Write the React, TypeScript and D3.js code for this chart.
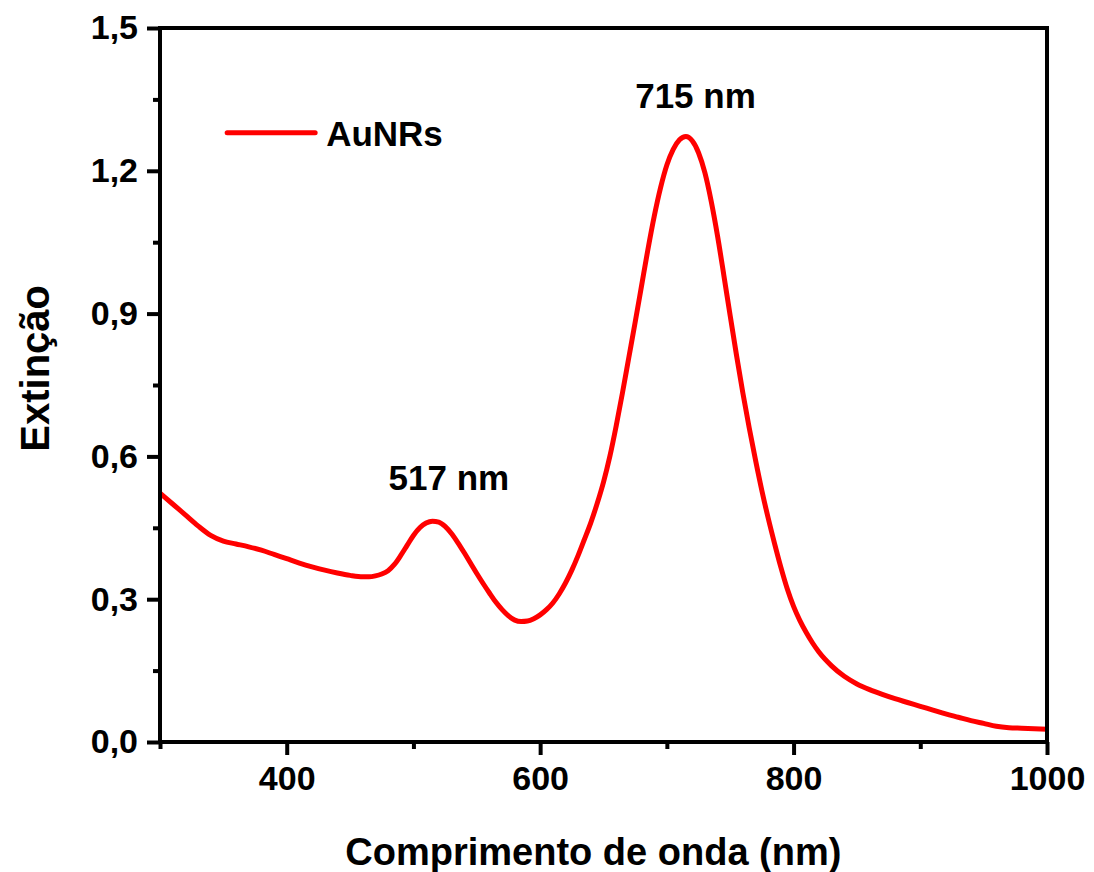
import * as d3 from 'd3'
import React, { useRef, useEffect } from 'react'

// wavelength (nm) and extinction
const wavelength = [
  300, 310, 320, 330, 340, 350, 360, 370, 380, 390, 400, 410, 420, 430, 440, 450, 460, 465, 470, 475,
  480, 485, 490, 495, 500, 505, 510, 515, 520, 525, 530, 535, 540, 545, 550, 555, 560, 565, 570, 575,
  580, 585, 590, 595, 600, 605, 610, 615, 620, 625, 630, 635, 640, 645, 650, 655, 660, 665, 670, 675,
  680, 685, 690, 695, 700, 705, 710, 715, 720, 725, 730, 735, 740, 745, 750, 755, 760, 765, 770, 775,
  780, 785, 790, 795, 800, 805, 810, 815, 820, 830, 840, 850, 860, 870, 880, 890, 900, 910, 920, 930,
  940, 950, 960, 970, 980, 990, 1000,
]
const extinction = [
  0.523, 0.5, 0.477, 0.454, 0.434, 0.422, 0.416, 0.41, 0.403, 0.394, 0.385, 0.376, 0.368, 0.361, 0.355, 0.35, 0.347, 0.347, 0.349, 0.353,
  0.36, 0.373, 0.392, 0.413, 0.434, 0.45, 0.46, 0.464, 0.462, 0.453, 0.438, 0.419, 0.398, 0.376, 0.354, 0.333, 0.313, 0.294, 0.278, 0.265,
  0.256, 0.253, 0.254, 0.259, 0.267, 0.278, 0.292, 0.311, 0.334, 0.361, 0.392, 0.426, 0.461, 0.501, 0.546, 0.6, 0.664, 0.734, 0.808, 0.882,
  0.958, 1.034, 1.104, 1.164, 1.212, 1.245, 1.265, 1.272, 1.263, 1.238, 1.196, 1.136, 1.063, 0.98, 0.895, 0.812, 0.733, 0.66, 0.592, 0.528,
  0.47, 0.417, 0.367, 0.322, 0.285, 0.255, 0.23, 0.208, 0.189, 0.16, 0.138, 0.122, 0.11, 0.1, 0.091, 0.083, 0.075, 0.067, 0.059, 0.052,
  0.045, 0.039, 0.033, 0.03, 0.029, 0.028, 0.027,
]

const xMajor = [400, 600, 800, 1000]
const xMinor = [300, 500, 700, 900]
const yMajor = [0, 0.3, 0.6, 0.9, 1.2, 1.5]
const yMinor = [0.15, 0.45, 0.75, 1.05, 1.35]

const peaks = [
  { label: '517 nm', nm: 528, value: 0.529 },
  { label: '715 nm', nm: 722.6, value: 1.332 },
]
const seriesName = 'AuNRs'

const font = '"Liberation Sans", Arial, sans-serif'

export default function App() {
  const xAxisRef = useRef(null)
  const yAxisRef = useRef(null)

  const width = 1094
  const height = 872
  const margin = { left: 160, right: 47, top: 28, bottom: 130 }
  const innerW = width - margin.left - margin.right
  const innerH = height - margin.top - margin.bottom

  const x = d3.scaleLinear().domain([300, 1000]).range([0, innerW])
  const y = d3.scaleLinear().domain([0, 1.5]).range([innerH, 0])

  const points = wavelength.map((w, i) => [w, extinction[i]] as [number, number])
  const line = d3
    .line<[number, number]>()
    .x((d) => x(d[0]))
    .y((d) => y(d[1]))
    .curve(d3.curveMonotoneX)

  useEffect(() => {
    const gx = d3.select(xAxisRef.current)
    gx.selectAll('*').remove()
    const xMaj = gx.append('g').call(d3.axisBottom(x).tickValues(xMajor).tickSize(13).tickPadding(11).tickSizeOuter(0).tickFormat(d3.format('d')))
    const xMin = gx.append('g').call(d3.axisBottom(x).tickValues(xMinor).tickSize(7).tickSizeOuter(0).tickFormat(() => ''))

    const gy = d3.select(yAxisRef.current)
    gy.selectAll('*').remove()
    const yMaj = gy.append('g').call(
      d3.axisLeft(y).tickValues(yMajor).tickSize(13).tickPadding(9).tickSizeOuter(0)
        .tickFormat((d) => (d as number).toFixed(1).replace('.', ','))
    )
    const yMin = gy.append('g').call(d3.axisLeft(y).tickValues(yMinor).tickSize(7).tickSizeOuter(0).tickFormat(() => ''))

    for (const g of [xMaj, xMin, yMaj, yMin]) {
      g.select('.domain').remove()
      g.selectAll('line').attr('stroke', '#000').attr('stroke-width', 4)
      g.selectAll('text')
        .attr('fill', '#000')
        .attr('font-family', font)
        .attr('font-weight', 'bold')
        .attr('font-size', 34)
    }
  }, [])

  return (
    <div style={{ position: 'absolute', left: 0, top: 0 }}>
      <svg width={width} height={height} style={{ display: 'block', background: '#fff' }}>
        <g transform={`translate(${margin.left},${margin.top})`}>
          <g ref={xAxisRef} transform={`translate(0,${innerH})`} />
          <g ref={yAxisRef} />
          <path d={line(points) ?? ''} fill="none" stroke="#ff0000" strokeWidth={5} strokeLinejoin="round" />
          <rect x={0} y={0} width={innerW} height={innerH} fill="none" stroke="#000" strokeWidth={4} />

          {peaks.map((p) => (
            <text key={p.label} x={x(p.nm)} y={y(p.value)} textAnchor="middle"
              fontFamily={font} fontWeight="bold" fontSize={35} fill="#000">
              {p.label}
            </text>
          ))}

          <g transform={`translate(${x(353)},${y(1.28)})`}>
            <line x1={0} x2={88} y1={0} y2={0} stroke="#ff0000" strokeWidth={5} strokeLinecap="round" />
            <text x={99} y={13} fontFamily={font} fontWeight="bold" fontSize={35} fill="#000">{seriesName}</text>
          </g>

          <text x={x(642)} y={innerH + 123} textAnchor="middle"
            fontFamily={font} fontWeight="bold" fontSize={38} fill="#000">
            Comprimento de onda (nm)
          </text>
          <text transform={`translate(${49 - margin.left},${y(0.785)}) rotate(-90)`} textAnchor="middle"
            fontFamily={font} fontWeight="bold" fontSize={40} fill="#000">
            Extinção
          </text>
        </g>
      </svg>
    </div>
  )
}
